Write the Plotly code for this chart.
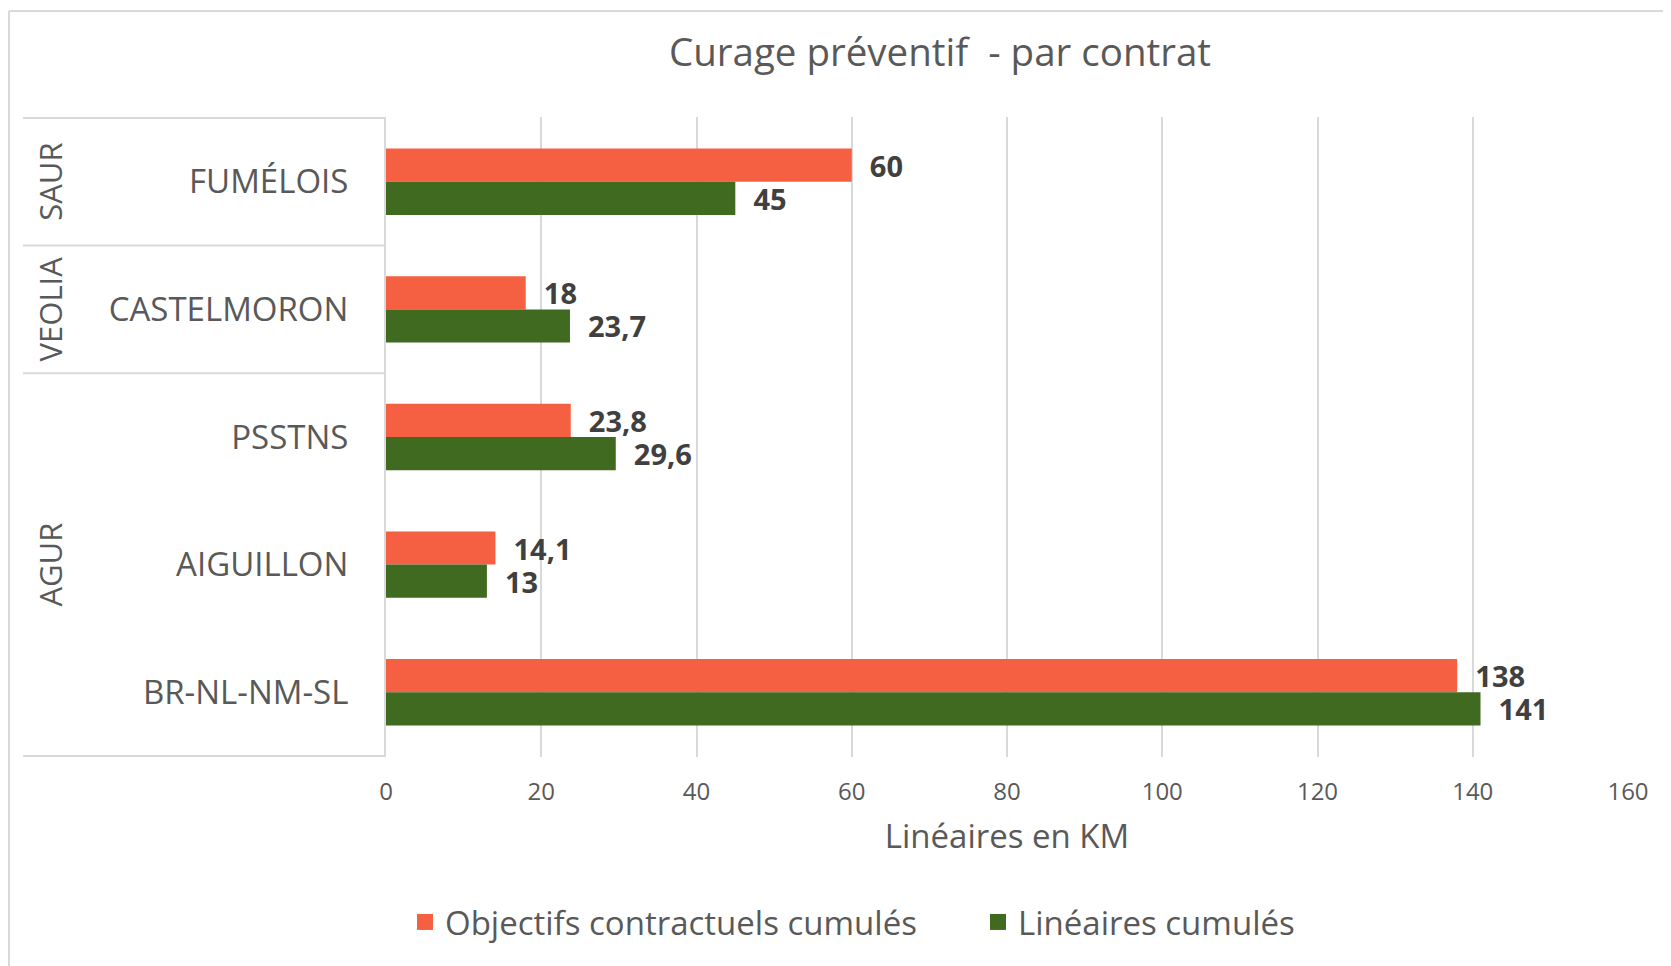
import plotly.graph_objects as go

categories = ["FUMÉLOIS", "CASTELMORON", "PSSTNS", "AIGUILLON", "BR-NL-NM-SL"]
groups = ["SAUR", "VEOLIA", "AGUR", "AGUR", "AGUR"]
objectifs = [60, 18, 23.8, 14.1, 138]
lineaires = [45, 23.7, 29.6, 13, 141]
series_names = ["Objectifs contractuels cumulés", "Linéaires cumulés"]
x_ticks = [0, 20, 40, 60, 80, 100, 120, 140, 160]

ORANGE = "#F55F42"
GREEN = "#406A1F"
GRID = "#D9D9D9"
TXT = "#595959"
LBL = "#404040"
FONT = "Open Sans"

W, H = 1671, 966
L, R, T, B = 378, 51, 109, 217
pw = W - L - R
ph = H - T - B


def px_x(p):
    return (p - L) / pw


def px_y(p):
    return (H - B - p) / ph


def fmt(v):
    s = f"{v:g}".replace(".", ",")
    return "\u00a0\u00a0" + s


fig = go.Figure()
for vals, name, col in [(objectifs, series_names[0], ORANGE), (lineaires, series_names[1], GREEN)]:
    fig.add_trace(go.Bar(
        y=categories, x=vals, orientation="h", name=name,
        marker=dict(color=col, line=dict(width=0)),
        text=[fmt(v) for v in vals], textposition="outside",
        textfont=dict(family=FONT, size=29, color=LBL, weight="bold"),
        constraintext="none", cliponaxis=False, showlegend=False,
    ))
    fig.add_trace(go.Scatter(
        x=[None], y=[None], mode="markers", name=name,
        marker=dict(symbol="square", size=21, color=col),
        showlegend=True,
    ))

shapes = []
n = len(categories)
bounds = [-0.5]
for i in range(1, n):
    if groups[i] != groups[i - 1]:
        bounds.append(i - 0.5)
bounds.append(n - 0.5)
for b in bounds:
    shapes.append(dict(type="line", xref="paper", yref="y", x0=px_x(15), x1=0, y0=b, y1=b,
                       line=dict(color=GRID, width=2)))
# chart border (top and left)
shapes.append(dict(type="line", xref="paper", yref="paper", x0=px_x(1), x1=px_x(W + 5),
                   y0=px_y(3), y1=px_y(3), line=dict(color=GRID, width=2)))
shapes.append(dict(type="line", xref="paper", yref="paper", x0=px_x(1), x1=px_x(1),
                   y0=px_y(3), y1=px_y(H + 5), line=dict(color=GRID, width=2)))

annotations = []
seen = []
for g in groups:
    if g not in seen:
        seen.append(g)
for g in seen:
    idx = [i for i, gg in enumerate(groups) if gg == g]
    annotations.append(dict(xref="paper", yref="y", x=px_x(42), y=sum(idx) / len(idx),
                            text=g, textangle=-90, showarrow=False,
                            font=dict(family=FONT, size=31, color=TXT),
                            xanchor="center", yanchor="middle"))

fig.update_layout(
    width=W, height=H,
    margin=dict(l=L, r=R, t=T, b=B, autoexpand=False),
    paper_bgcolor="white", plot_bgcolor="white",
    barmode="group", bargap=0.48, bargroupgap=0,
    title=dict(text="Curage préventif  - par contrat", x=932 / W, xref="container",
               y=1 - 45 / H, yref="container", xanchor="center", yanchor="middle",
               font=dict(family=FONT, size=38.5, color=TXT)),
    xaxis=dict(range=[0, 160], tickvals=x_ticks, showgrid=True, gridcolor=GRID, gridwidth=2,
               zeroline=False, showline=False, ticks="",
               tickfont=dict(family=FONT, size=24, color=TXT), ticklabelstandoff=18,
               title=dict(text="Linéaires en KM", font=dict(family=FONT, size=33, color=TXT), standoff=18)),
    yaxis=dict(categoryorder="array", categoryarray=categories, autorange="reversed",
               showgrid=False, zeroline=False, showline=True, linecolor=GRID, linewidth=2,
               ticks="", tickfont=dict(family=FONT, size=33, color=TXT), ticklabelstandoff=29),
    legend=dict(orientation="h", x=px_x(397), xanchor="left", y=px_y(914), yanchor="middle",
                font=dict(family=FONT, size=33, color=TXT), itemsizing="trace",
                entrywidth=528, entrywidthmode="pixels",
                bgcolor="rgba(0,0,0,0)"),
    shapes=shapes, annotations=annotations,
)

fig.write_html("out.html")
